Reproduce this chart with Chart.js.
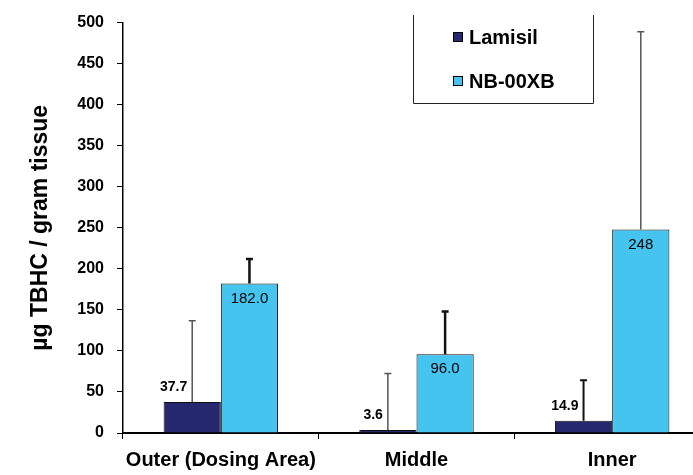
<!DOCTYPE html>
<html>
<head>
<meta charset="utf-8">
<script src="https://cdn.jsdelivr.net/npm/chart.js@4"></script>
<style>
  html, body { margin: 0; padding: 0; background: #fff; overflow: hidden; }
  #wrap { width: 710px; height: 475px; }
</style>
</head>
<body>
<div id="wrap"><canvas id="chart" width="710" height="475"></canvas></div>
<script>
// data
const categories = ['Outer (Dosing Area)', 'Middle', 'Inner'];
const lamisilValues = [37.7, 3.6, 14.9];
const lamisilErrors = [99, 69, 49.5];
const lamisilLabels = ['37.7', '3.6', '14.9'];
const nbValues = [182.0, 96.0, 248];
const nbErrors = [30, 52, 241];
const nbLabels = ['182.0', '96.0', '248'];
const yMin = 0, yMax = 500, yStep = 50;

const FONT = '"Liberation Sans", Arial, sans-serif';

// error bars (upper only)
const errorBars = {
    id: 'errorBars',
    afterDatasetsDraw(chart) {
        const ctx = chart.ctx;
        const y = chart.scales.y;
        chart.data.datasets.forEach((ds, i) => {
            const meta = chart.getDatasetMeta(i);
            meta.data.forEach((bar, j) => {
                const top = y.getPixelForValue(ds.data[j] + ds.errors[j]);
                ctx.save();
                ctx.strokeStyle = ds.errColors[j];
                ctx.lineWidth = ds.errWidths[j];
                ctx.beginPath();
                ctx.moveTo(bar.x, bar.y);
                ctx.lineTo(bar.x, top);
                ctx.moveTo(bar.x - 3.5, top);
                ctx.lineTo(bar.x + 3.5, top);
                ctx.stroke();
                ctx.restore();
            });
        });
    }
};

// value labels
const valueLabels = {
    id: 'valueLabels',
    afterDatasetsDraw(chart) {
        const ctx = chart.ctx;
        ctx.save();
        ctx.fillStyle = '#000';
        ctx.textBaseline = 'middle';
        chart.getDatasetMeta(0).data.forEach((bar, j) => {
            ctx.font = 'bold 14px ' + FONT;
            ctx.textAlign = 'right';
            ctx.fillText(lamisilLabels[j], bar.x - 5, bar.y - 15);
        });
        chart.getDatasetMeta(1).data.forEach((bar, j) => {
            ctx.font = '15px ' + FONT;
            ctx.textAlign = 'center';
            ctx.fillText(nbLabels[j], bar.x, bar.y + 15);
        });
        ctx.restore();
    }
};

// boxed legend in the top right
const boxLegend = {
    id: 'boxLegend',
    afterDraw(chart) {
        const ctx = chart.ctx;
        ctx.save();
        ctx.strokeStyle = '#222';
        ctx.lineWidth = 1;
        ctx.beginPath();
        ctx.moveTo(413.5, 15);
        ctx.lineTo(413.5, 103.5);
        ctx.lineTo(593.5, 103.5);
        ctx.lineTo(593.5, 15);
        ctx.stroke();
        const rows = [37, 81];
        chart.data.datasets.forEach((ds, i) => {
            ctx.fillStyle = ds.backgroundColor;
            ctx.fillRect(453, rows[i] - 5, 10, 10);
            ctx.strokeStyle = '#000';
            ctx.strokeRect(453.5, rows[i] - 4.5, 9, 9);
            ctx.fillStyle = '#000';
            ctx.font = 'bold 20px ' + FONT;
            ctx.textAlign = 'left';
            ctx.textBaseline = 'middle';
            ctx.fillText(ds.label, 469, rows[i] + 1);
        });
        ctx.restore();
    }
};

new Chart(document.getElementById('chart'), {
    type: 'bar',
    data: {
        labels: categories,
        datasets: [
            {
                label: 'Lamisil',
                data: lamisilValues,
                errors: lamisilErrors,
                errColors: ['#555', '#555', '#111'],
                errWidths: [1.5, 1.5, 2],
                backgroundColor: '#25286E',
                borderColor: '#111',
                borderWidth: 1
            },
            {
                label: 'NB-00XB',
                data: nbValues,
                errors: nbErrors,
                errColors: ['#111', '#111', '#555'],
                errWidths: [2.5, 2.5, 1.5],
                backgroundColor: '#44C4EE',
                borderColor: '#111',
                borderWidth: 1
            }
        ]
    },
    options: {
        responsive: false,
        animation: false,
        devicePixelRatio: 1,
        layout: { padding: { top: 15, left: 0, right: 0, bottom: 0 } },
        categoryPercentage: 0.585,
        barPercentage: 1,
        plugins: {
            legend: { display: false },
            tooltip: { enabled: false }
        },
        scales: {
            x: {
                grid: { offset: true, drawOnChartArea: false, tickLength: 6, color: '#000', lineWidth: 1 },
                border: { color: '#000', width: 2 },
                ticks: { color: '#000', font: { family: FONT, size: 20, weight: 'bold' }, padding: 9, maxRotation: 0 },
                afterFit(scale) { scale.height = 42; }
            },
            y: {
                min: yMin,
                max: yMax,
                ticks: { stepSize: yStep, color: '#000', font: { family: FONT, size: 16, weight: 'bold' }, padding: 13 },
                grid: { drawOnChartArea: false, tickLength: 6, color: '#000', lineWidth: 1 },
                border: { color: '#000', width: 1.5 },
                title: {
                    display: true,
                    text: 'µg TBHC / gram tissue',
                    color: '#000',
                    font: { family: FONT, size: 23, weight: 'bold' },
                    padding: { top: 27, bottom: 0 }
                },
                afterFit(scale) { scale.width = 123; }
            }
        }
    },
    plugins: [errorBars, valueLabels, boxLegend]
});
</script>
</body>
</html>
